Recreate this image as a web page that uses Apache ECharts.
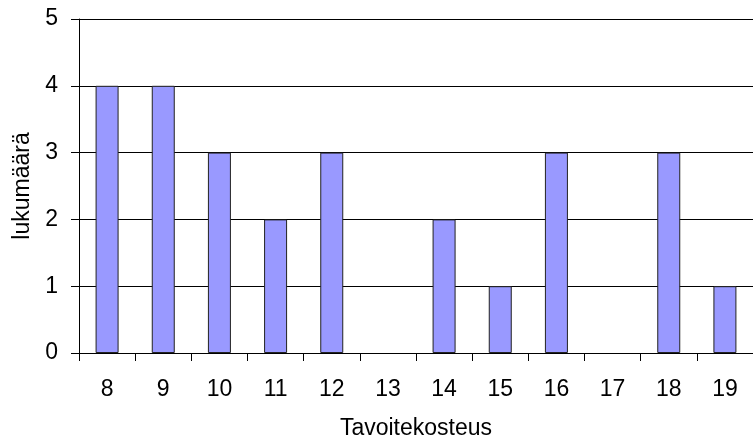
<!DOCTYPE html>
<html>
<head>
<meta charset="utf-8">
<script src="https://cdn.jsdelivr.net/npm/echarts@6/dist/echarts.min.js"></script>
<style>
  html, body { margin: 0; padding: 0; background: #fff; }
  #chart { width: 753px; height: 445px; }
</style>
</head>
<body>
<div id="chart"></div>
<script>
// Tavoitekosteus categories and counts
const categories = ['8', '9', '10', '11', '12', '13', '14', '15', '16', '17', '18', '19'];
const counts = [4, 4, 3, 2, 3, 0, 2, 1, 3, 0, 3, 1];
const yTicks = [0, 1, 2, 3, 4, 5];

const font = 'Liberation Sans, Arial, sans-serif';
const fontSize = 23;

// zero-height bars get no outline so nothing is drawn for them
const barData = counts.map(v => ({
  value: v,
  itemStyle: v === 0 ? { borderWidth: 0 } : undefined
}));

const chart = echarts.init(document.getElementById('chart'), null, { renderer: 'canvas' });
chart.setOption({
  animation: false,
  backgroundColor: '#ffffff',
  grid: { left: 79, right: -8, top: 19, bottom: 91, containLabel: false },
  xAxis: {
    type: 'category',
    data: categories,
    name: 'Tavoitekosteus',
    nameLocation: 'middle',
    nameGap: 64,
    nameTextStyle: { fontFamily: font, fontSize: fontSize, color: '#000' },
    axisLine: { lineStyle: { color: '#000', width: 1 } },
    axisTick: { show: true, alignWithLabel: false, length: 8, lineStyle: { color: '#000' } },
    axisLabel: { fontFamily: font, fontSize: fontSize, color: '#000', margin: 25 },
    splitLine: { show: false }
  },
  yAxis: {
    type: 'value',
    min: yTicks[0],
    max: yTicks[yTicks.length - 1],
    interval: 1,
    name: 'lukumäärä',
    nameLocation: 'middle',
    nameGap: 45,
    nameTextStyle: { fontFamily: font, fontSize: fontSize, color: '#000' },
    axisLine: { show: true, lineStyle: { color: '#000', width: 1 } },
    axisTick: { show: true, length: 8, lineStyle: { color: '#000' } },
    axisLabel: { fontFamily: font, fontSize: fontSize, color: '#000', margin: 21 },
    splitLine: { show: true, lineStyle: { color: '#000', width: 1 } }
  },
  series: [{
    type: 'bar',
    data: barData,
    barWidth: 23,
    itemStyle: { color: '#9999ff', borderColor: '#222', borderWidth: 1 }
  }]
});
</script>
</body>
</html>
